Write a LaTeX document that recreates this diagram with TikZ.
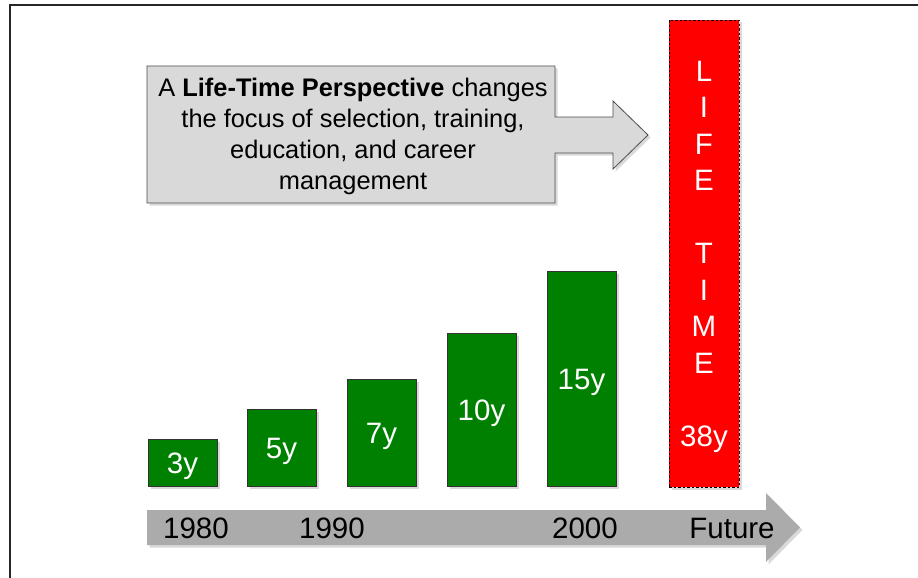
\documentclass[tikz,border=0pt]{standalone}
\usepackage{fontspec}
\setmainfont{Liberation Sans}
\usetikzlibrary{shadows}

\begin{document}
\begin{tikzpicture}[
            x=1pt, y=-1pt,
            frame/.style={draw=black!85, line width=1.2pt},
            shade/.style={drop shadow={shadow xshift=2.5pt, shadow yshift=-2.5pt, opacity=0.3}},
            bar/.style={draw=black!80, fill=green!50!black, minimum width=69pt, inner sep=0pt, text=white, font=\fontsize{29.5}{36.5}\selectfont, shade},
            lifebar/.style={draw=black, dash pattern=on 2.5pt off 2pt, line width=0.8pt, fill=red, minimum width=70pt, minimum height=467pt, inner sep=0pt, text=white, align=center, font=\fontsize{29.5}{36.5}\selectfont, shade},
            callout/.style={draw=black!70, line width=0.8pt, fill=black!15, shade},
            timeline/.style={fill=black!33, shade},
            year/.style={font=\fontsize{29.5}{36}\selectfont, inner sep=0pt}
        ]

% Fixed canvas and frame
            \useasboundingbox (0,0) rectangle (918,578);
            \draw [frame] (10,578) |- (918,5);

% Callout with arrow to the right
            \path [callout] (147,66) -- (555,66) -- (555,117) -- (613,117) -- (613,101) -- (648,135)
                -- (613,169) -- (613,153) -- (555,153) -- (555,203) -- (147,203) -- cycle;
            \node (msg) [align=center, font=\fontsize{25.4}{31}\selectfont] at (353,136)
                {A \textbf{Life-Time Perspective} changes\\the focus of selection, training,\\education, and career\\management};

% Time axis
            \path [timeline] (147,510) -- (766,510) -- (766,493) -- (800,527.5) -- (766,562) -- (766,545) -- (147,545) -- cycle;

% Green bars, bottom aligned at 486
            \foreach \n/\cx/\top in {3/182.5/439, 5/281.5/409, 7/381.5/379, 10/481.5/333, 15/581.5/271} {
                \pgfmathsetmacro\h{486-\top}
                \node (bar\n) [bar, minimum height=\h pt, text depth=0pt] at (\cx,{(\top+486)/2}) {};
                \node (lab\n) [text=white, font=\fontsize{29.5}{36.5}\selectfont, inner sep=0pt] at ([yshift=-3.5pt]bar\n.center) {\n y};
            }

% Life time bar
            \node (life) [lifebar] at (704,253.5) {};
            \node (lifetext) [text=white, align=center, inner sep=0pt, font=\fontsize{29.5}{36.5}\selectfont]
                at ([yshift=-3.2pt]life.center) {L\\I\\F\\E\\~\\T\\I\\M\\E\\~\\38y};

% Labels on the axis
            \node (y1980) [year] at (196,528) {1980};
            \node (y1990) [year] at (332,528) {1990};
            \node (y2000) [year] at (585,528) {2000};
            \node (future) [year] at (732,528) {Future};

        \end{tikzpicture}
\end{document}
